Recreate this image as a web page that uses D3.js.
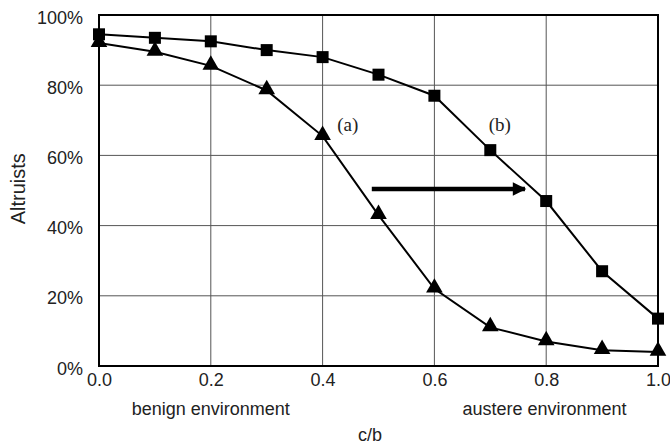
<!DOCTYPE html>
<html>
  <head>
    <meta charset="utf-8">
    <style>
      body { margin: 0; background: #fff; }
      text { font-family: "Liberation Sans", Arial, sans-serif; fill: #222; }
      .grid line { stroke: #555; stroke-width: 1; }
      .serif { font-family: "Liberation Serif", "Times New Roman", serif; }
    </style>
  </head>
  <body>
    <svg width="670" height="444"></svg>
    <script src="https://d3js.org/d3.v7.min.js"></script>
    <script>
      var costRatio = [0.0, 0.1, 0.2, 0.3, 0.4, 0.5, 0.6, 0.7, 0.8, 0.9, 1.0];
      var seriesA = [92, 89.5, 85.5, 78.5, 65.5, 43, 22, 11, 7, 4.5, 4];
      var seriesB = [94.5, 93.5, 92.5, 90, 88, 83, 77, 61.5, 47, 27, 13.5];
      var xTicks = [0, 0.2, 0.4, 0.6, 0.8, 1.0];
      var yTicks = [0, 20, 40, 60, 80, 100];

      var svg = d3.select("svg");
      var margin = { left: 99, right: 12, top: 15, bottom: 78 };
      var width = 670, height = 444;

      var x = d3.scaleLinear().domain([0, 1]).range([margin.left, width - margin.right]);
      var y = d3.scaleLinear().domain([0, 100]).range([height - margin.bottom, margin.top]);

      // grid
      var grid = svg.append("g").attr("class", "grid");
      grid.selectAll(".vx").data(xTicks.slice(1, -1)).enter().append("line")
        .attr("x1", function(d) { return x(d); }).attr("x2", function(d) { return x(d); })
        .attr("y1", y(0)).attr("y2", y(100));
      grid.selectAll(".hy").data(yTicks.slice(1, -1)).enter().append("line")
        .attr("y1", function(d) { return y(d); }).attr("y2", function(d) { return y(d); })
        .attr("x1", x(0)).attr("x2", x(1));

      // frame
      svg.append("rect")
        .attr("x", x(0)).attr("y", y(100))
        .attr("width", x(1) - x(0)).attr("height", y(0) - y(100))
        .attr("fill", "none").attr("stroke", "#000").attr("stroke-width", 2);

      // axes (labels only)
      var xAxis = svg.append("g")
        .attr("transform", "translate(0," + y(0) + ")")
        .call(d3.axisBottom(x).tickValues(xTicks).tickFormat(d3.format(".1f")).tickSize(0).tickPadding(7));
      var yAxis = svg.append("g")
        .attr("transform", "translate(" + x(0) + ",0)")
        .call(d3.axisLeft(y).tickValues(yTicks).tickFormat(function(d) { return d + "%"; }).tickSize(0).tickPadding(16));
      [xAxis, yAxis].forEach(function(a) {
        a.select(".domain").remove();
        a.attr("font-size", 18).attr("font-family", null);
        a.selectAll("text").style("fill", "#222");
      });
      yAxis.selectAll("text").attr("dy", "0.45em");

      // lines
      var line = d3.line()
        .x(function(d, i) { return x(costRatio[i]); })
        .y(function(d) { return y(d); });

      svg.append("path").datum(seriesB)
        .attr("d", line).attr("fill", "none").attr("stroke", "#000").attr("stroke-width", 2);
      svg.append("path").datum(seriesA)
        .attr("d", line).attr("fill", "none").attr("stroke", "#000").attr("stroke-width", 2);

      svg.selectAll(".sq").data(seriesB).enter().append("rect")
        .attr("x", function(d, i) { return x(costRatio[i]) - 6; })
        .attr("y", function(d) { return y(d) - 6; })
        .attr("width", 12).attr("height", 12).attr("fill", "#000");

      var tri = d3.symbol().type(d3.symbolTriangle).size(120);
      svg.selectAll(".tri").data(seriesA).enter().append("path")
        .attr("d", tri)
        .attr("transform", function(d, i) { return "translate(" + x(costRatio[i]) + "," + (y(d) - 1) + ")"; })
        .attr("fill", "#000");

      // annotations
      svg.append("text").attr("class", "serif").attr("x", x(0.445)).attr("y", y(67))
        .attr("text-anchor", "middle").attr("font-size", 19).text("(a)");
      svg.append("text").attr("class", "serif").attr("x", x(0.717)).attr("y", y(67))
        .attr("text-anchor", "middle").attr("font-size", 19).text("(b)");

      svg.append("defs").append("marker")
        .attr("id", "ah").attr("viewBox", "0 0 10 10").attr("refX", 9).attr("refY", 5)
        .attr("markerWidth", 4).attr("markerHeight", 3).attr("orient", "auto")
        .attr("markerUnits", "strokeWidth")
        .append("path").attr("d", "M0,0 L10,5 L0,10 z").attr("fill", "#000");
      svg.append("line")
        .attr("x1", x(0.488)).attr("x2", x(0.762))
        .attr("y1", y(50.4)).attr("y2", y(50.4))
        .attr("stroke", "#000").attr("stroke-width", 4.5).attr("marker-end", "url(#ah)");

      // axis titles
      svg.append("text").attr("transform", "translate(25," + y(50.5) + ") rotate(-90)")
        .attr("text-anchor", "middle").attr("font-size", 20).text("Altruists");
      svg.append("text").attr("x", x(0.2)).attr("y", 415)
        .attr("text-anchor", "middle").attr("font-size", 18).text("benign environment");
      svg.append("text").attr("x", x(0.797)).attr("y", 415)
        .attr("text-anchor", "middle").attr("font-size", 18).text("austere environment");
      svg.append("text").attr("x", x(0.485)).attr("y", 441)
        .attr("text-anchor", "middle").attr("font-size", 18).text("c/b");
    </script>
  </body>
</html>
